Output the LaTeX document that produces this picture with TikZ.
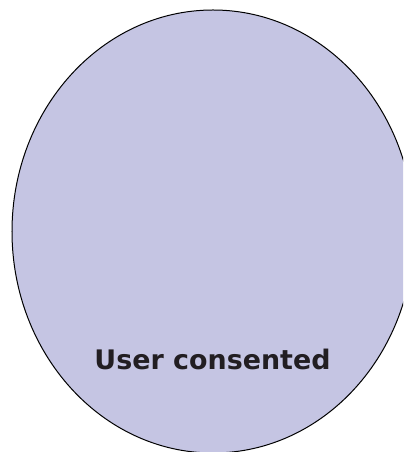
\documentclass[tikz,border=0pt]{standalone}
\usepackage{fontspec}
\setmainfont{DejaVu Sans}
\definecolor{ellfill}{RGB}{197,197,227}
\definecolor{txt}{RGB}{34,30,34}
\begin{document}
\begin{tikzpicture}[x=1bp,y=-1bp,
  lbl/.style={text=txt,font=\bfseries\fontsize{27}{32}\selectfont,inner sep=0pt}]
\useasboundingbox (0,0) rectangle (403,452);
\clip (0,0) rectangle (403,452);
\draw[draw=black,line width=1bp,fill=ellfill] (213,231.5) ellipse [x radius=201bp,y radius=221.5bp];
\node[lbl,anchor=base] (u) at (212.5,369) {User consented};
\end{tikzpicture}
\end{document}
